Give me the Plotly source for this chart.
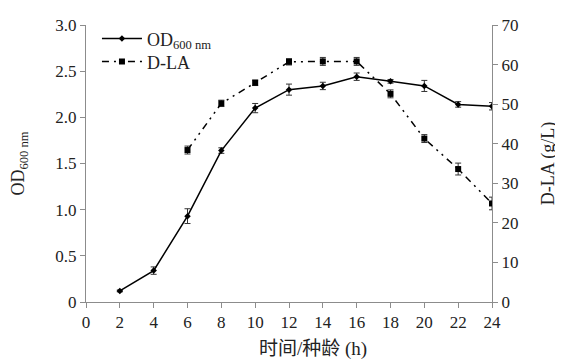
import plotly.graph_objects as go

time_h = [2, 4, 6, 8, 10, 12, 14, 16, 18, 20, 22, 24]
od600 = [0.12, 0.34, 0.93, 1.64, 2.10, 2.30, 2.34, 2.44, 2.39, 2.34, 2.14, 2.12]
od600_err = [0.01, 0.04, 0.08, 0.03, 0.05, 0.06, 0.04, 0.04, 0.02, 0.06, 0.03, 0.04]

dla_time = [6, 8, 10, 12, 14, 16, 18, 20, 22, 24]
dla = [38.4, 50.2, 55.4, 60.7, 60.8, 60.8, 52.6, 41.3, 33.6, 24.9]
dla_err = [1.0, 0.8, 0.7, 0.8, 1.0, 1.0, 1.0, 1.0, 1.5, 1.6]

x_ticks = list(range(0, 25, 2))
left_ticks = [0, 0.5, 1.0, 1.5, 2.0, 2.5, 3.0]
left_labels = ["0", "0.5", "1.0", "1.5", "2.0", "2.5", "3.0"]
right_ticks = [0, 10, 20, 30, 40, 50, 60, 70]

FONT = "'Liberation Serif', 'Times New Roman', 'Noto Sans CJK SC', serif"
AX = "#8c8c8c"

fig = go.Figure()
fig.add_trace(go.Scatter(
    x=time_h, y=od600, name="OD<sub>600 nm</sub>", mode="lines+markers",
    line=dict(color="black", width=1.5),
    marker=dict(symbol="diamond", size=5, color="black"),
    error_y=dict(type="data", array=od600_err, color="#333333", thickness=1, width=3),
    legend="legend",
))
fig.add_trace(go.Scatter(
    x=dla_time, y=dla, name="D-LA", mode="lines+markers", yaxis="y2",
    line=dict(color="black", width=1.5, dash="7px,5px,2px,5px,2px,5px"),
    marker=dict(symbol="square", size=6, color="black"),
    error_y=dict(type="data", array=dla_err, color="#333333", thickness=1, width=3),
    legend="legend2",
))

legend_common = dict(xanchor="left", yanchor="middle", bgcolor="rgba(0,0,0,0)",
                     font=dict(size=18), itemwidth=40)

fig.update_layout(
    width=555, height=354,
    margin=dict(l=78, r=71, t=13, b=60),
    paper_bgcolor="white", plot_bgcolor="white",
    font=dict(family=FONT, size=17, color="#222222"),
    showlegend=True,
    legend=dict(x=0.027, y=0.95, **legend_common),
    legend2=dict(x=0.027, y=0.867, **legend_common),
    xaxis=dict(range=[0, 24], tickvals=x_ticks, showline=True, linecolor=AX,
               linewidth=1, ticks="outside", ticklen=5, tickcolor=AX,
               showgrid=False, zeroline=False, automargin=False),
    yaxis=dict(range=[0, 3], tickvals=left_ticks, ticktext=left_labels,
               showline=True, linecolor=AX, linewidth=1, ticks="outside",
               ticklen=5, tickcolor=AX, showgrid=False, zeroline=False,
               automargin=False,
               title=dict(text="OD<sub>600 nm</sub>", standoff=26, font=dict(size=18))),
    yaxis2=dict(range=[0, 70], tickvals=right_ticks, overlaying="y", side="right",
                showline=True, linecolor=AX, linewidth=1, ticks="outside",
                ticklen=5, tickcolor=AX, showgrid=False, zeroline=False,
                automargin=False,
                title=dict(text="D-LA (g/L)", standoff=23, font=dict(size=18))),
    annotations=[dict(text="时间/种龄 (h)", xref="paper", yref="paper",
                      x=0.56, y=-0.17, xanchor="center", yanchor="middle",
                      showarrow=False, font=dict(size=19))],
)

fig.write_html("out.html")
